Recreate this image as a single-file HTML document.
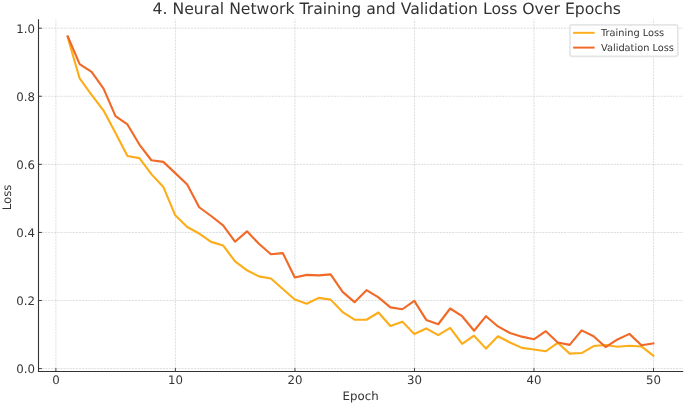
<!DOCTYPE html>
<html lang="en"><head><meta charset="utf-8"><title>Neural Network Training and Validation Loss Over Epochs</title>
<style>html,body{margin:0;padding:0;background:#fff}body{width:685px;height:404px;overflow:hidden}svg{display:block}text{text-rendering:geometricPrecision;font-family:"DejaVu Sans","Liberation Sans",sans-serif;fill:#333333}</style></head><body>
<svg width="685" height="404" viewBox="0 0 685 404">
<rect width="685" height="404" fill="#fff"/>
<g stroke="#c9c9c9" stroke-width="0.6" stroke-dasharray="2.17 0.94" fill="none">
<line x1="55.90" y1="371.5" x2="55.90" y2="19.2"/>
<line x1="175.42" y1="371.5" x2="175.42" y2="19.2"/>
<line x1="294.94" y1="371.5" x2="294.94" y2="19.2"/>
<line x1="414.46" y1="371.5" x2="414.46" y2="19.2"/>
<line x1="533.98" y1="371.5" x2="533.98" y2="19.2"/>
<line x1="653.50" y1="371.5" x2="653.50" y2="19.2"/>
<line x1="38.5" y1="368.60" x2="683.2" y2="368.60"/>
<line x1="38.5" y1="300.52" x2="683.2" y2="300.52"/>
<line x1="38.5" y1="232.44" x2="683.2" y2="232.44"/>
<line x1="38.5" y1="164.36" x2="683.2" y2="164.36"/>
<line x1="38.5" y1="96.28" x2="683.2" y2="96.28"/>
<line x1="38.5" y1="28.20" x2="683.2" y2="28.20"/>
</g>
<polyline points="67.70,37.30 79.65,78.49 91.61,94.96 103.56,110.62 115.51,132.95 127.46,155.93 139.41,158.14 151.37,174.14 163.32,186.91 175.27,215.33 187.22,226.97 199.17,233.51 211.13,241.88 223.08,245.46 235.03,261.28 246.98,270.30 258.93,276.36 270.89,278.54 282.84,289.06 294.79,299.44 306.74,303.70 318.69,297.84 330.65,299.61 342.60,312.04 354.55,319.63 366.50,319.76 378.45,312.48 390.41,325.96 402.36,321.64 414.31,334.06 426.26,328.51 438.21,335.08 450.17,327.90 462.12,343.97 474.07,335.73 486.02,348.60 497.97,336.21 509.93,342.47 521.88,347.88 533.83,349.48 545.78,351.25 557.73,342.78 569.69,353.63 581.64,353.06 593.59,346.04 605.54,344.95 617.49,346.76 629.45,345.74 641.40,346.45 653.35,355.74" fill="none" stroke="#fdad1a" stroke-width="2.12" stroke-linejoin="round" stroke-linecap="square"/>
<polyline points="67.70,36.28 79.65,64.19 91.61,71.85 103.56,88.70 115.51,116.10 127.46,124.44 139.41,144.53 151.37,160.25 163.32,161.89 175.27,173.12 187.22,184.52 199.17,207.26 211.13,216.01 223.08,225.37 235.03,241.71 246.98,231.33 258.93,243.72 270.89,254.27 282.84,253.11 294.79,277.52 306.74,274.87 318.69,275.34 330.65,274.42 342.60,291.92 354.55,302.13 366.50,290.15 378.45,297.43 390.41,307.37 402.36,309.25 414.31,300.91 426.26,319.90 438.21,324.26 450.17,308.50 462.12,316.22 474.07,330.79 486.02,316.19 497.97,326.44 509.93,332.97 521.88,336.65 533.83,339.27 545.78,331.24 557.73,342.47 569.69,344.85 581.64,330.38 593.59,336.24 605.54,347.06 617.49,339.44 629.45,333.89 641.40,345.26 653.35,343.35" fill="none" stroke="#f16927" stroke-width="2.12" stroke-linejoin="round" stroke-linecap="square"/>
<g stroke="#333333" stroke-width="0.9" fill="none">
<line x1="55.90" y1="371.5" x2="55.90" y2="368.07"/>
<line x1="175.42" y1="371.5" x2="175.42" y2="368.07"/>
<line x1="294.94" y1="371.5" x2="294.94" y2="368.07"/>
<line x1="414.46" y1="371.5" x2="414.46" y2="368.07"/>
<line x1="533.98" y1="371.5" x2="533.98" y2="368.07"/>
<line x1="653.50" y1="371.5" x2="653.50" y2="368.07"/>
<line x1="38.5" y1="368.60" x2="41.93" y2="368.60"/>
<line x1="38.5" y1="300.52" x2="41.93" y2="300.52"/>
<line x1="38.5" y1="232.44" x2="41.93" y2="232.44"/>
<line x1="38.5" y1="164.36" x2="41.93" y2="164.36"/>
<line x1="38.5" y1="96.28" x2="41.93" y2="96.28"/>
<line x1="38.5" y1="28.20" x2="41.93" y2="28.20"/>
</g>
<path d="M38.5 19.2 V371.5 H683.2" fill="none" stroke="#333333" stroke-width="1.1" stroke-linejoin="miter"/>
<g font-size="11.75">
<text x="55.90" y="383.75" text-anchor="middle">0</text>
<text x="175.42" y="383.75" text-anchor="middle">10</text>
<text x="294.94" y="383.75" text-anchor="middle">20</text>
<text x="414.46" y="383.75" text-anchor="middle">30</text>
<text x="533.98" y="383.75" text-anchor="middle">40</text>
<text x="653.50" y="383.75" text-anchor="middle">50</text>
<text x="34.95" y="373.10" text-anchor="end">0.0</text>
<text x="34.95" y="305.02" text-anchor="end">0.2</text>
<text x="34.95" y="236.94" text-anchor="end">0.4</text>
<text x="34.95" y="168.86" text-anchor="end">0.6</text>
<text x="34.95" y="100.78" text-anchor="end">0.8</text>
<text x="34.95" y="32.70" text-anchor="end">1.0</text>
</g>
<text x="360.6" y="399.6" font-size="11.75" text-anchor="middle">Epoch</text>
<text transform="translate(11.25 197.4) rotate(-90)" font-size="11.75" text-anchor="middle">Loss</text>
<text x="386.8" y="13.6" font-size="15.66" text-anchor="middle">4. Neural Network Training and Validation Loss Over Epochs</text>
<rect x="569.95" y="24.85" width="107.9" height="31.6" rx="2.2" ry="2.2" fill="#fff" fill-opacity="0.8" stroke="#e0e0e0" stroke-opacity="0.85" stroke-width="1.7"/>
<line x1="574.1" y1="32.8" x2="593.6" y2="32.8" stroke="#fdad1a" stroke-width="1.96" stroke-linecap="square"/>
<line x1="574.1" y1="47.6" x2="593.6" y2="47.6" stroke="#f16927" stroke-width="1.96" stroke-linecap="square"/>
<g font-size="9.79"><text x="601.05" y="36.0">Training Loss</text><text x="601.05" y="50.8">Validation Loss</text></g>
</svg></body></html>
